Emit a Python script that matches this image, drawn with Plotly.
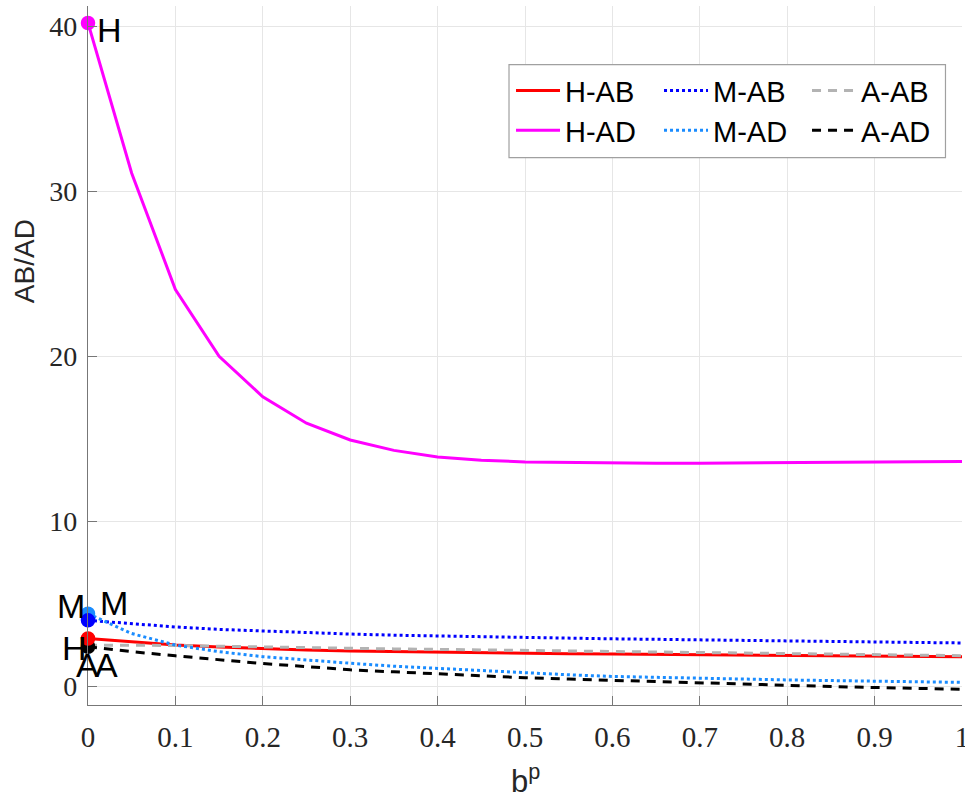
import plotly.graph_objects as go

# ---- data ----
bp = [0.0, 0.05, 0.1, 0.15, 0.2, 0.25, 0.3, 0.35, 0.4, 0.45, 0.5,
      0.55, 0.6, 0.65, 0.7, 0.75, 0.8, 0.85, 0.9, 0.95, 1.0]

h_ab = [2.9, 2.7, 2.5, 2.38, 2.28, 2.2, 2.14, 2.1, 2.06, 2.03, 2.0,
        1.98, 1.96, 1.94, 1.92, 1.9, 1.88, 1.86, 1.84, 1.82, 1.8]
h_ad = [40.2, 31.1, 24.05, 20.0, 17.55, 15.95, 14.93, 14.3, 13.9, 13.7, 13.6,
        13.56, 13.53, 13.52, 13.52, 13.53, 13.55, 13.57, 13.59, 13.61, 13.63]
m_ab = [4.0, 3.8, 3.6, 3.45, 3.35, 3.25, 3.17, 3.1, 3.05, 3.0, 2.97,
        2.93, 2.88, 2.85, 2.81, 2.78, 2.75, 2.72, 2.69, 2.66, 2.63]
m_ad = [4.4, 3.2, 2.5, 2.1, 1.8, 1.58, 1.4, 1.22, 1.08, 0.95, 0.84,
        0.7, 0.6, 0.54, 0.49, 0.44, 0.39, 0.35, 0.31, 0.27, 0.24]
a_ab = [2.5, 2.5, 2.48, 2.43, 2.38, 2.33, 2.3, 2.27, 2.24, 2.21, 2.19,
        2.16, 2.13, 2.1, 2.07, 2.04, 2.01, 1.98, 1.94, 1.9, 1.86]
a_ad = [2.4, 2.1, 1.85, 1.6, 1.38, 1.2, 1.0, 0.88, 0.75, 0.62, 0.52,
        0.44, 0.36, 0.28, 0.2, 0.12, 0.05, -0.01, -0.07, -0.12, -0.18]

series_names = ["H-AB", "M-AB", "A-AB", "H-AD", "M-AD", "A-AD"]

# point labels (text, x, y)
label_text = ["H", "M", "M", "H", "A", "A"]
label_x = [0.0246, -0.0189, 0.0297, -0.0149, -0.0006, 0.0212]
label_y = [39.78, 4.90, 5.08, 2.35, 1.32, 1.32]

x_ticks = [0, 0.1, 0.2, 0.3, 0.4, 0.5, 0.6, 0.7, 0.8, 0.9, 1]
x_tick_text = ["0", "0.1", "0.2", "0.3", "0.4", "0.5", "0.6", "0.7", "0.8", "0.9", "1"]
y_ticks = [0, 10, 20, 30, 40]

# ---- styles ----
styles = {
    "H-AB": dict(color="#ff0000", dash="solid", legend="legend"),
    "M-AB": dict(color="#0000ff", dash="dot", legend="legend"),
    "A-AB": dict(color="#b3b3b3", dash="9px,7px", legend="legend"),
    "H-AD": dict(color="#ff00ff", dash="solid", legend="legend2"),
    "M-AD": dict(color="#1a8cff", dash="dot", legend="legend2"),
    "A-AD": dict(color="#000000", dash="9px,7px", legend="legend2"),
}
values = {"H-AB": h_ab, "M-AB": m_ab, "A-AB": a_ab,
          "H-AD": h_ad, "M-AD": m_ad, "A-AD": a_ad}

fig = go.Figure()

for name in series_names:
    st = styles[name]
    fig.add_trace(go.Scatter(
        x=bp, y=values[name], mode="lines", name=name,
        line=dict(color=st["color"], width=3, dash=st["dash"]),
        legend=st["legend"], showlegend=True,
    ))

# start markers
marker_order = ["A-AB", "A-AD", "H-AB", "M-AD", "M-AB", "H-AD"]
for name in marker_order:
    st = styles[name]
    fig.add_trace(go.Scatter(
        x=[bp[0]], y=[values[name][0]], mode="markers", showlegend=False,
        marker=dict(symbol="circle", size=13, color=st["color"],
                    line=dict(color=st["color"], width=1.5)),
        cliponaxis=False, hoverinfo="skip",
    ))

# x range is [0, 1], so paper fraction equals the data value along x
for t, x, y in zip(label_text, label_x, label_y):
    fig.add_annotation(x=x, y=y, xref="paper", yref="y", text=t, showarrow=False,
                       xanchor="center", yanchor="middle",
                       font=dict(family="Liberation Sans", size=34, color="black"))

# axis titles
fig.add_annotation(x=-0.0732, y=0.635, xref="paper", yref="paper", text="AB/AD",
                   textangle=-90, showarrow=False, xanchor="center", yanchor="middle",
                   font=dict(family="Liberation Sans", size=28, color="#262626"))
fig.add_annotation(x=0.5, y=-0.106, xref="paper", yref="paper", text="b<sup>p</sup>",
                   showarrow=False, xanchor="center", yanchor="middle",
                   font=dict(family="Liberation Sans", size=31, color="#262626"))

# legend box
fig.add_shape(type="rect", xref="paper", yref="paper",
              x0=0.4817, x1=0.9811, y0=0.783, y1=0.916,
              line=dict(color="#a0a0a0", width=1.2), fillcolor="white", layer="above")

legend_common = dict(orientation="h", xanchor="left", yanchor="middle",
                     bgcolor="rgba(0,0,0,0)", borderwidth=0,
                     entrywidth=89, entrywidthmode="pixels", itemwidth=44,
                     font=dict(family="Liberation Sans", size=29, color="black"),
                     tracegroupgap=0)

fig.update_layout(
    width=965, height=800,
    margin=dict(l=88, r=3, t=6, b=95, autoexpand=False),
    paper_bgcolor="white", plot_bgcolor="white",
    showlegend=True,
    legend=dict(x=0.484, y=0.879, **legend_common),
    legend2=dict(x=0.484, y=0.822, **legend_common),
    xaxis=dict(range=[0, 1], tickvals=x_ticks, ticktext=x_tick_text,
               showgrid=True, gridcolor="#e6e6e6", gridwidth=1,
               showline=True, linecolor="#777777", linewidth=1.2,
               ticks="inside", ticklen=9, tickcolor="#777777",
               tickfont=dict(family="Liberation Serif", size=29, color="#262626"),
               zeroline=False, mirror=False, ticklabelstandoff=6,
               ticklabeloverflow="allow", automargin=False),
    yaxis=dict(range=[-1.13, 41.23], tickvals=y_ticks,
               showgrid=True, gridcolor="#e6e6e6", gridwidth=1,
               showline=True, linecolor="#777777", linewidth=1.2,
               ticks="inside", ticklen=9, tickcolor="#777777",
               tickfont=dict(family="Liberation Serif", size=28, color="#262626"),
               zeroline=False, mirror=False, ticklabelstandoff=4,
               automargin=False),
)

fig.write_html("out.html")
